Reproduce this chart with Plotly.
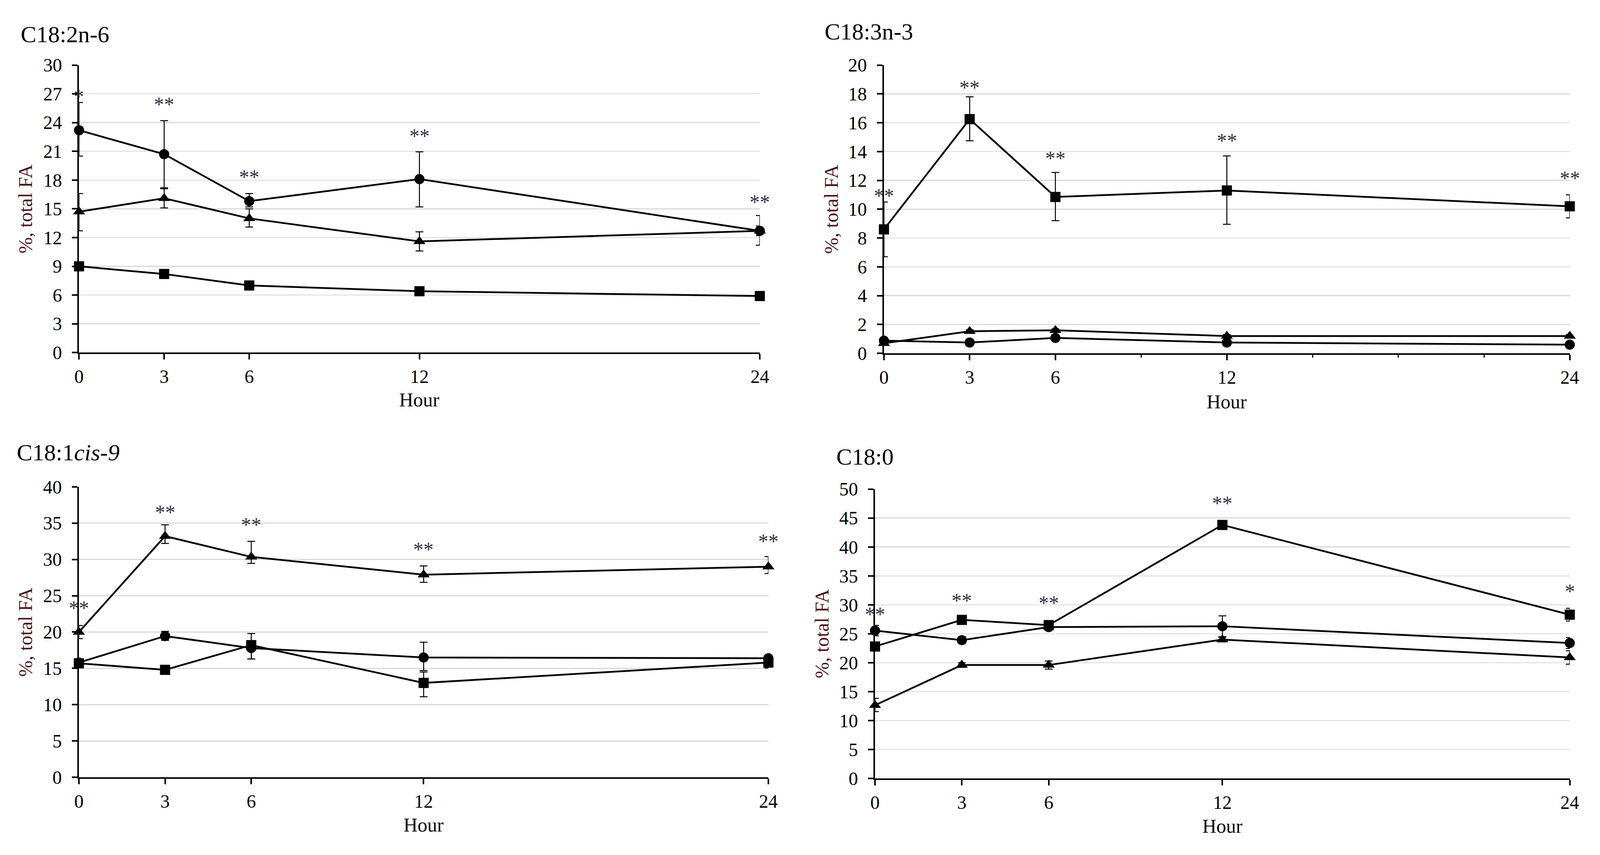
import plotly.graph_objects as go

W, H = 4255, 2188

# ---------------- data ----------------
hours = [0, 3, 6, 12, 24]
hour_labels = ["0", "3", "6", "12", "24"]

# C18:2n-6
c182_circle = [23.2, 20.7, 15.8, 18.1, 12.7]
c182_circle_up = [2.9, 3.5, 0.8, 2.85, 1.6]
c182_circle_dn = [2.7, 3.5, 0.6, 2.9, 1.5]
c182_triangle = [14.7, 16.1, 14.0, 11.6, 12.7]
c182_triangle_up = [1.9, 1.0, 1.0, 1.0, 0.5]
c182_triangle_dn = [2.0, 1.0, 0.9, 1.0, 0.5]
c182_square = [9.0, 8.2, 7.0, 6.4, 5.9]
c182_square_up = [0.2, 0.2, 0.2, 0.2, 0.2]
c182_square_dn = [0.2, 0.2, 0.2, 0.2, 0.2]
c182_stars = ["*", "**", "**", "**", "**"]
c182_star_y = [27.1, 26.3, 18.7, 23.0, 16.1]

# C18:3n-3
c183_square = [8.6, 16.25, 10.85, 11.3, 10.2]
c183_square_up = [1.9, 1.55, 1.7, 2.4, 0.8]
c183_square_dn = [1.9, 1.5, 1.65, 2.35, 0.8]
c183_triangle = [0.7, 1.53, 1.6, 1.2, 1.2]
c183_triangle_up = [0.1, 0.1, 0.1, 0.1, 0.1]
c183_triangle_dn = [0.1, 0.1, 0.1, 0.1, 0.1]
c183_circle = [0.88, 0.75, 1.07, 0.75, 0.6]
c183_circle_up = [0.1, 0.1, 0.1, 0.1, 0.1]
c183_circle_dn = [0.1, 0.1, 0.1, 0.1, 0.1]
c183_stars = ["**", "**", "**", "**", "**"]
c183_star_y = [11.2, 18.7, 13.8, 15.0, 12.4]

# C18:1cis-9
c181_triangle = [20.0, 33.2, 30.35, 27.9, 29.0]
c181_triangle_up = [0.9, 1.56, 2.15, 1.2, 1.4]
c181_triangle_dn = [0.9, 1.0, 0.9, 1.05, 0.95]
c181_circle = [15.8, 19.45, 17.8, 16.5, 16.4]
c181_circle_up = [0.3, 0.65, 2.0, 2.1, 0.4]
c181_circle_dn = [0.3, 0.6, 1.5, 1.8, 0.4]
c181_square = [15.7, 14.8, 18.2, 13.0, 15.8]
c181_square_up = [0.3, 0.4, 0.5, 1.5, 0.3]
c181_square_dn = [0.3, 0.4, 1.9, 1.9, 0.75]
c181_stars = ["**", "**", "**", "**", "**"]
c181_star_y = [23.8, 37.0, 35.3, 31.9, 33.0]

# C18:0
c180_square = [22.8, 27.4, 26.5, 43.8, 28.3]
c180_square_up = [0.6, 0.5, 0.5, 0.5, 1.1]
c180_square_dn = [0.6, 0.5, 0.5, 0.5, 1.1]
c180_circle = [25.55, 23.9, 26.15, 26.3, 23.4]
c180_circle_up = [0.9, 0.6, 0.4, 1.8, 0.95]
c180_circle_dn = [0.9, 0.6, 0.4, 1.8, 0.95]
c180_triangle = [12.65, 19.6, 19.6, 24.0, 20.9]
c180_triangle_up = [1.2, 0.4, 0.7, 0.4, 1.15]
c180_triangle_dn = [1.1, 0.4, 0.7, 0.4, 1.15]
c180_stars = ["**", "**", "**", "**", "*"]
c180_star_y = [29.0, 31.4, 31.0, 48.2, 33.0]

panel_titles = ["C18:2n-6", "C18:3n-3", "C18:1<i>cis-9</i>", "C18:0"]
y_maxes = [30, 20, 40, 50]
y_dticks = [3, 2, 5, 5]
y_title = "%, total FA"
x_title = "Hour"

# ---------------- style ----------------
FONT = "Liberation Serif"
TICK_SIZE = 48
TITLE_SIZE = 60
AXTITLE_SIZE = 50
YTITLE_SIZE = 50
STAR_SIZE = 52
YTITLE_COLOR = "#4a1414"
STAR_COLOR = "#2a2f3d"
GRID = "#d9d9d9"

SYMBOLS = {"circle": ("circle", 26), "triangle": ("triangle-up", 27), "square": ("square", 26)}


def px_x(v):
    return v / W


def px_y(v):
    return 1 - v / H


# pixel geometry of each panel: (x0, x1, ytop, ybottom)
boxes = [
    (199.5, 2026, 144, 898),
    (2359, 4199, 144, 900),
    (199, 2049, 1250, 2012),
    (2335, 4199, 1256, 2015),
]
title_pos = [(41, 64), (2198, 56), (30, 1160), (2229, 1171)]
ytitle_pos = [(56, 521), (2218, 522), (56, 1631), (2193, 1635)]
hour_y = [1022, 1027, 2137, 2140]

panel_series = [
    [("circle", c182_circle, c182_circle_up, c182_circle_dn),
     ("triangle", c182_triangle, c182_triangle_up, c182_triangle_dn),
     ("square", c182_square, c182_square_up, c182_square_dn)],
    [("square", c183_square, c183_square_up, c183_square_dn),
     ("triangle", c183_triangle, c183_triangle_up, c183_triangle_dn),
     ("circle", c183_circle, c183_circle_up, c183_circle_dn)],
    [("triangle", c181_triangle, c181_triangle_up, c181_triangle_dn),
     ("circle", c181_circle, c181_circle_up, c181_circle_dn),
     ("square", c181_square, c181_square_up, c181_square_dn)],
    [("square", c180_square, c180_square_up, c180_square_dn),
     ("circle", c180_circle, c180_circle_up, c180_circle_dn),
     ("triangle", c180_triangle, c180_triangle_up, c180_triangle_dn)],
]
panel_stars = [(c182_stars, c182_star_y), (c183_stars, c183_star_y),
               (c181_stars, c181_star_y), (c180_stars, c180_star_y)]

fig = go.Figure()
annotations = []
layout = {}

for i in range(4):
    n = "" if i == 0 else str(i + 1)
    xref, yref = "x" + n, "y" + n
    x0, x1, yt, yb = boxes[i]

    for kind, vals, up, dn in panel_series[i]:
        sym, size = SYMBOLS[kind]
        # error bars (clipped to plot area like the original)
        fig.add_trace(go.Scatter(
            x=hours, y=vals, xaxis=xref, yaxis=yref, mode="markers",
            marker=dict(size=2, opacity=0), cliponaxis=True, showlegend=False,
            hoverinfo="skip",
            error_y=dict(type="data", symmetric=False, array=up, arrayminus=dn,
                         color="black", thickness=2.5, width=10),
        ))
        fig.add_trace(go.Scatter(
            x=hours, y=vals, xaxis=xref, yaxis=yref, mode="lines+markers",
            line=dict(color="black", width=4.5),
            marker=dict(symbol=sym, size=size, color="black", line=dict(width=0)),
            cliponaxis=False, showlegend=False,
        ))

    stars, star_y = panel_stars[i]
    for h, s, sy in zip(hours, stars, star_y):
        annotations.append(dict(
            x=h, y=sy, xref=xref, yref=yref, text=s, showarrow=False,
            xanchor="center", yanchor="middle", yshift=-10,
            font=dict(family=FONT, size=STAR_SIZE, color=STAR_COLOR)))

    xa = dict(
        domain=[px_x(x0), px_x(x1)], anchor=yref, range=[0, 24],
        tickmode="array", tickvals=hours, ticktext=hour_labels,
        showgrid=False, zeroline=False, showline=True, linecolor="black", linewidth=4,
        ticks="outside", ticklen=14, tickwidth=4, tickcolor="black",
        tickfont=dict(family=FONT, size=TICK_SIZE, color="black"),
        ticklabelstandoff=2,
    )
    if i == 1:
        xa["minor"] = dict(tickmode="array", tickvals=[9, 15, 18, 21], ticks="outside",
                           ticklen=7, tickwidth=3, tickcolor="black", showgrid=False)
    ya = dict(
        domain=[px_y(yb), px_y(yt)], anchor=xref, range=[0, y_maxes[i]],
        dtick=y_dticks[i], tick0=0,
        showgrid=True, gridcolor=GRID, gridwidth=2.5, zeroline=False,
        showline=True, linecolor="black", linewidth=4,
        ticks="outside", ticklen=14, tickwidth=4, tickcolor="black",
        tickfont=dict(family=FONT, size=TICK_SIZE, color="black"),
        ticklabelstandoff=16,
    )
    layout["xaxis" + n] = xa
    layout["yaxis" + n] = ya

    tx, ty = title_pos[i]
    annotations.append(dict(
        x=px_x(tx), y=px_y(ty), xref="paper", yref="paper", text=panel_titles[i],
        showarrow=False, xanchor="left", yanchor="middle",
        font=dict(family=FONT, size=TITLE_SIZE, color="black")))
    yx, yy = ytitle_pos[i]
    annotations.append(dict(
        x=px_x(yx), y=px_y(yy), xref="paper", yref="paper", text=y_title,
        showarrow=False, xanchor="center", yanchor="middle", textangle=-90,
        font=dict(family=FONT, size=YTITLE_SIZE, color=YTITLE_COLOR)))
    annotations.append(dict(
        x=px_x((x0 + x1) / 2), y=px_y(hour_y[i]), xref="paper", yref="paper",
        text=x_title, showarrow=False, xanchor="center", yanchor="middle",
        font=dict(family=FONT, size=AXTITLE_SIZE, color="black")))

fig.update_layout(
    width=W, height=H, autosize=False,
    margin=dict(l=0, r=0, t=0, b=0),
    paper_bgcolor="white", plot_bgcolor="white",
    showlegend=False, annotations=annotations, **layout,
)

fit_script = (
    "document.documentElement.style.margin='0';"
    "document.body.style.margin='0';document.body.style.padding='0';"
    "document.body.style.overflow='hidden';"
    "var gd=document.getElementById('{plot_id}');"
    "gd.style.width=window.innerWidth+'px';gd.style.height=window.innerHeight+'px';"
    "Plotly.relayout(gd,{width:window.innerWidth,height:window.innerHeight});"
)

fig.write_html("out.html", post_script=fit_script,
               config={"displayModeBar": False, "staticPlot": True})
